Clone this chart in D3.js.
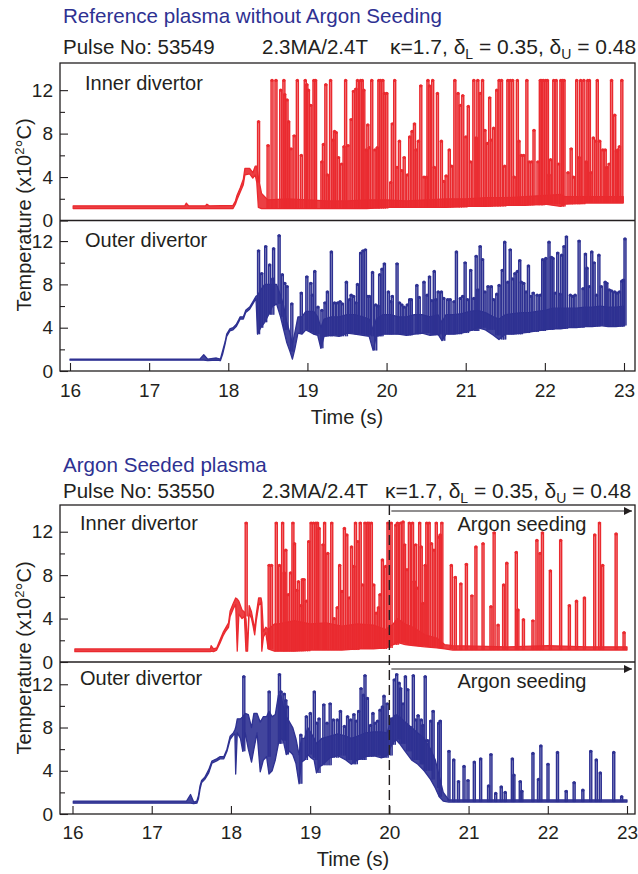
<!DOCTYPE html>
<html>
<head>
<meta charset="utf-8">
<script src="https://cdn.jsdelivr.net/npm/d3@7"></script>
<style>
body { margin: 0; background: #fff; }
text { font-family: "Liberation Sans", Arial, Helvetica, sans-serif; fill: #231f20; }
</style>
</head>
<body>
<svg id="chart" width="638" height="874"></svg>
<script>
// ---- data ----
// body of each trace: [time (s), low, high] in units of 10^2 C
// spikes: [time (s), peak]
var timeTicks = [16, 17, 18, 19, 20, 21, 22, 23];
var majorTicks = [0, 4, 8, 12];
var minorTicks = [2, 6, 10];

var refInnerBody = [
  [16.04,1.1,1.35],[17.45,1.1,1.35],[17.47,1.1,1.6],[17.50,1.1,1.35],[17.71,1.1,1.35],[17.73,1.1,1.5],
  [17.76,1.1,1.35],[18.06,1.1,1.4],[18.09,1.5,1.8],[18.11,1.9,2.3],[18.15,2.6,3.0],[18.19,3.3,3.8],
  [18.21,4.2,4.8],[18.27,4.3,4.8],[18.31,3.9,4.4],[18.34,4.2,5.0],[18.36,3.5,5.0],[18.38,1.2,4.0],
  [18.42,1.1,2.5],[18.50,1.1,1.9],[18.75,1.1,2.0],[19.0,1.1,1.9],[19.25,1.1,1.8],[19.5,1.1,1.8],
  [19.75,1.1,1.9],[20.0,1.2,1.9],[20.25,1.2,1.8],[20.5,1.2,1.9],[20.75,1.2,2.0],[21.0,1.3,2.0],
  [21.25,1.3,2.1],[21.5,1.4,2.1],[21.75,1.4,2.2],[22.0,1.5,2.3],[22.2,1.3,2.4],[22.25,1.5,2.2],
  [22.5,1.6,2.2],[22.75,1.6,2.2],[22.99,1.6,2.2]
];
var refInnerSpikes = [
  [18.37,9.1],[18.49,6.9],[18.54,12.9],[18.59,12.9],[18.65,12.0],[18.69,12.9],[18.70,11.6],[18.73,11.1],
  [18.75,9.1],[18.78,6.6],[18.82,7.8],[18.86,12.9],[18.91,6.0],[18.96,12.9],[18.98,12.5],[19.00,12.0],
  [19.03,10.6],[19.07,12.9],[19.09,12.9],[19.17,5.4],[19.19,7.0],[19.22,12.5],[19.24,4.2],[19.28,12.9],
  [19.31,7.4],[19.33,8.2],[19.35,8.1],[19.38,5.8],[19.42,5.2],[19.45,6.8],[19.47,12.9],[19.50,6.9],
  [19.54,9.3],[19.57,11.9],[19.60,12.1],[19.62,12.9],[19.66,12.9],[19.68,12.9],[19.70,12.0],[19.73,6.5],
  [19.75,8.8],[19.77,6.7],[19.80,12.9],[19.84,6.5],[19.87,6.7],[19.89,12.9],[19.91,12.9],[19.94,12.9],
  [19.96,11.7],[19.99,11.7],[20.04,3.5],[20.06,8.9],[20.09,12.9],[20.12,4.9],[20.15,7.3],[20.18,4.6],
  [20.21,5.8],[20.25,4.2],[20.28,7.7],[20.31,8.2],[20.34,8.9],[20.36,6.5],[20.39,7.3],[20.42,12.4],
  [20.46,4.0],[20.49,4.0],[20.51,12.9],[20.53,12.4],[20.57,12.9],[20.59,4.9],[20.63,11.7],[20.68,7.3],
  [20.71,3.6],[20.74,4.1],[20.78,6.5],[20.81,5.0],[20.85,12.9],[20.89,11.7],[20.92,10.6],[20.95,11.5],
  [20.99,7.7],[21.02,10.5],[21.05,5.4],[21.09,12.9],[21.12,7.6],[21.14,12.9],[21.17,11.7],[21.20,12.9],
  [21.23,8.3],[21.26,7.1],[21.29,11.3],[21.31,7.4],[21.34,8.5],[21.38,12.0],[21.41,12.9],[21.44,12.9],
  [21.48,5.0],[21.52,12.9],[21.55,12.9],[21.58,12.9],[21.60,4.0],[21.64,12.9],[21.66,7.3],[21.69,6.0],
  [21.72,6.0],[21.76,12.9],[21.79,5.4],[21.82,5.4],[21.85,8.3],[21.90,5.4],[21.93,12.9],[21.95,12.9],
  [21.97,12.9],[22.00,12.9],[22.02,12.9],[22.04,4.2],[22.06,5.6],[22.10,12.9],[22.13,12.9],[22.16,5.2],
  [22.19,12.9],[22.21,12.9],[22.23,12.9],[22.28,4.4],[22.32,6.6],[22.35,4.0],[22.39,12.9],[22.42,5.8],
  [22.44,12.9],[22.48,12.9],[22.51,5.4],[22.53,12.9],[22.55,12.9],[22.57,4.4],[22.60,7.6],[22.63,7.3],
  [22.65,12.9],[22.68,7.3],[22.72,6.5],[22.75,6.5],[22.77,4.9],[22.80,5.2],[22.83,12.9],[22.87,9.7],
  [22.89,6.4],[22.91,6.5],[22.93,6.8],[22.96,12.9]
];

var refOuterBody = [
  [16.0,1.0,1.1],[17.64,1.0,1.1],[17.69,1.0,1.5],[17.74,0.95,1.1],[17.85,1.0,1.2],[17.90,0.95,1.1],
  [17.93,1.6,1.9],[17.96,2.5,2.7],[17.98,3.2,3.4],[18.02,3.7,3.9],[18.06,3.8,4.0],[18.10,4.1,4.3],
  [18.13,4.5,4.7],[18.15,4.8,5.0],[18.19,4.8,5.0],[18.22,5.4,5.6],[18.27,5.7,5.9],[18.31,6.2,6.4],
  [18.35,6.7,6.9],[18.37,3.4,7.0],[18.41,4.0,7.5],[18.46,4.5,8.0],[18.51,5.2,8.0],[18.56,6.0,8.0],
  [18.61,6.2,8.0],[18.66,5.0,7.0],[18.70,3.8,6.0],[18.74,2.6,4.5],[18.78,1.8,3.5],[18.81,1.1,2.5],
  [18.84,2.0,3.5],[18.88,3.5,5.0],[18.93,3.4,5.0],[18.98,3.8,5.5],[19.03,3.6,5.5],[19.08,3.4,5.5],
  [19.13,3.3,5.0],[19.17,2.1,4.0],[19.21,3.2,4.8],[19.30,3.3,5.0],[19.40,3.2,5.0],[19.50,3.5,5.2],
  [19.60,3.4,5.2],[19.70,3.3,5.0],[19.78,3.2,4.8],[19.83,1.9,3.8],[19.87,3.2,4.8],[19.95,3.4,5.2],
  [20.05,3.4,5.2],[20.15,3.4,5.0],[20.25,3.3,5.0],[20.35,3.4,5.2],[20.45,3.5,5.2],[20.55,3.3,5.0],
  [20.65,3.4,5.2],[20.70,2.8,4.5],[20.75,3.4,5.2],[20.85,3.4,5.2],[20.95,3.5,5.3],[21.05,3.7,5.5],
  [21.15,4.0,5.6],[21.25,3.8,5.4],[21.35,3.3,5.0],[21.42,2.9,4.8],[21.50,3.4,5.2],[21.60,3.4,5.3],
  [21.70,3.5,5.4],[21.80,3.6,5.4],[21.90,3.7,5.5],[22.00,3.8,5.6],[22.10,3.9,5.8],[22.20,3.9,5.8],
  [22.30,4.0,5.8],[22.40,4.0,5.8],[22.50,4.1,5.9],[22.60,4.1,5.9],[22.70,4.2,6.0],[22.80,4.1,5.9],
  [22.90,4.1,5.9],[23.00,4.2,6.0]
];
var refOuterSpikes = [
  [18.37,11.1],[18.41,9.0],[18.46,11.5],[18.51,9.8],[18.55,8.5],[18.56,11.3],[18.63,12.5],[18.67,8.9],
  [18.70,8.1],[18.73,7.8],[18.79,6.2],[18.91,7.2],[18.98,8.7],[19.03,8.1],[19.05,7.0],[19.08,9.2],
  [19.12,5.9],[19.17,5.6],[19.21,6.3],[19.24,7.3],[19.29,11.0],[19.33,6.3],[19.37,6.3],[19.40,6.4],
  [19.43,6.2],[19.48,8.2],[19.52,6.6],[19.54,7.0],[19.57,6.9],[19.60,6.3],[19.62,8.0],[19.66,10.9],
  [19.69,11.1],[19.72,11.2],[19.75,6.9],[19.77,6.9],[19.81,9.1],[19.85,6.1],[19.88,6.0],[19.90,8.9],
  [19.93,9.4],[19.96,9.9],[20.01,7.3],[20.04,6.4],[20.06,6.9],[20.12,9.9],[20.15,6.3],[20.18,6.1],
  [20.21,5.9],[20.25,6.1],[20.28,6.6],[20.30,6.6],[20.37,7.9],[20.40,6.8],[20.46,8.2],[20.50,7.0],
  [20.53,8.7],[20.56,6.5],[20.59,9.2],[20.61,6.6],[20.64,7.3],[20.68,7.3],[20.71,6.7],[20.76,6.6],
  [20.79,6.6],[20.84,6.4],[20.87,11.0],[20.92,6.7],[20.95,6.9],[20.98,10.0],[21.01,6.6],[21.05,9.3],
  [21.09,6.7],[21.12,10.6],[21.14,7.5],[21.17,11.5],[21.20,10.3],[21.23,7.3],[21.27,7.8],[21.31,7.8],
  [21.34,6.6],[21.38,7.1],[21.41,7.9],[21.45,9.3],[21.48,11.9],[21.52,8.2],[21.55,11.2],[21.58,8.5],
  [21.61,9.0],[21.64,9.2],[21.67,10.2],[21.69,8.2],[21.72,8.1],[21.75,7.3],[21.78,9.7],[21.81,6.9],
  [21.84,7.2],[21.89,7.0],[21.93,7.0],[21.96,10.3],[21.98,10.2],[22.00,10.4],[22.04,11.9],[22.07,10.5],
  [22.09,10.4],[22.12,7.2],[22.15,10.9],[22.18,7.1],[22.20,10.7],[22.23,11.5],[22.26,12.4],[22.31,7.0],
  [22.34,6.9],[22.37,7.0],[22.42,12.0],[22.47,7.6],[22.50,10.8],[22.52,9.5],[22.55,7.8],[22.58,11.0],
  [22.61,10.0],[22.64,7.0],[22.67,10.7],[22.70,7.8],[22.75,8.2],[22.77,8.1],[22.80,7.5],[22.83,7.4],
  [22.87,7.3],[22.90,7.2],[22.93,7.3],[22.96,8.3],[22.98,8.4],[23.00,12.2]
];

var argInnerBody = [
  [16.03,0.95,1.2],[17.74,0.95,1.2],[17.75,1.0,1.5],[17.78,0.95,1.2],[17.82,1.1,1.3],[17.86,1.7,2.0],
  [17.90,2.4,2.7],[17.93,2.8,3.1],[17.97,3.2,3.6],[17.99,4.2,4.7],[18.03,4.9,5.4],[18.06,5.3,5.9],
  [18.08,1.0,5.8],[18.10,4.4,5.6],[18.14,4.0,4.8],[18.17,4.2,4.6],[18.19,1.0,4.0],[18.21,1.0,1.4],
  [18.23,4.5,5.2],[18.26,4.0,4.6],[18.28,3.3,3.8],[18.30,2.5,3.0],[18.32,3.8,4.4],[18.35,5.2,5.9],
  [18.38,5.5,5.9],[18.39,1.0,5.5],[18.41,2.3,2.8],[18.44,2.7,3.2],[18.47,1.2,3.0],[18.55,1.0,3.5],
  [18.6,1.0,3.5],[18.8,1.0,3.8],[19.0,1.1,3.5],[19.2,1.1,3.6],[19.4,1.1,3.3],[19.6,1.2,3.5],
  [19.8,1.2,3.4],[19.95,1.3,3.0],[20.05,1.6,3.5],[20.1,1.8,4.0],[20.2,1.6,3.5],[20.3,1.5,3.2],
  [20.45,1.4,2.5],[20.6,1.3,2.2],[20.7,1.2,1.6],[20.8,1.1,1.5],[21.5,1.1,1.4],[22.0,1.1,1.5],
  [22.5,1.1,1.4],[23.0,1.1,1.4]
];
var argInnerSpikes = [
  [18.18,12.8],[18.47,8.9],[18.50,8.9],[18.56,12.8],[18.60,8.9],[18.64,12.8],[18.66,8.2],[18.68,10.3],
  [18.71,6.2],[18.74,8.2],[18.77,12.8],[18.79,10.9],[18.82,6.6],[18.84,7.4],[18.87,5.2],[18.89,7.6],
  [18.91,7.6],[18.94,5.6],[18.97,11.1],[19.00,12.8],[19.03,12.8],[19.06,12.8],[19.08,12.8],[19.10,12.3],
  [19.15,10.8],[19.17,12.8],[19.21,10.0],[19.26,12.8],[19.29,4.0],[19.33,5.0],[19.36,8.9],[19.39,6.5],
  [19.42,12.3],[19.45,11.7],[19.48,5.9],[19.51,10.6],[19.54,8.8],[19.56,12.8],[19.59,11.1],[19.62,12.8],
  [19.65,7.1],[19.68,12.8],[19.71,12.8],[19.73,12.8],[19.76,12.8],[19.79,7.1],[19.82,4.5],[19.85,5.0],
  [19.87,6.2],[19.90,9.4],[19.94,8.8],[19.97,12.8],[20.01,12.8],[20.07,12.6],[20.09,12.8],[20.13,12.8],
  [20.16,12.9],[20.18,10.8],[20.21,8.5],[20.24,12.8],[20.28,12.8],[20.30,7.4],[20.32,10.8],[20.34,6.8],
  [20.37,12.8],[20.39,10.6],[20.41,5.4],[20.44,8.9],[20.46,12.8],[20.49,12.8],[20.52,10.9],[20.55,10.3],
  [20.58,12.8],[20.61,11.5],[20.63,11.7],[20.65,12.8],[20.77,8.9],[20.82,7.8],[20.89,7.2],[20.96,9.0],
  [21.03,6.1],[21.08,10.6],[21.17,10.9],[21.27,5.1],[21.31,11.9],[21.36,3.4],[21.43,7.1],[21.47,9.1],
  [21.59,10.1],[21.61,4.8],[21.68,3.9],[21.80,3.8],[21.85,11.2],[21.89,10.0],[21.92,11.9],[22.02,8.4],
  [22.15,11.2],[22.26,5.2],[22.35,5.6],[22.45,5.9],[22.58,11.7],[22.64,12.8],[22.68,8.9],[22.85,11.8],
  [22.95,2.7]
];

var argOuterBody = [
  [16.01,1.0,1.2],[17.44,1.0,1.2],[17.49,1.0,1.8],[17.53,0.95,1.1],[17.57,1.0,1.2],[17.59,1.4,1.7],
  [17.61,2.3,2.6],[17.63,2.9,3.1],[17.67,3.2,3.4],[17.72,3.8,4.1],[17.76,4.7,4.9],[17.82,4.9,5.1],
  [17.86,5.1,5.3],[17.91,5.1,5.3],[17.95,5.8,6.0],[17.99,6.9,7.2],[18.03,7.3,7.5],[18.05,7.4,7.8],
  [18.06,3.7,8.0],[18.08,7.5,8.8],[18.12,7.0,8.8],[18.15,5.8,9.0],[18.18,7.5,9.3],[18.22,6.0,9.2],
  [18.26,4.8,8.0],[18.29,6.0,9.3],[18.33,7.5,9.3],[18.37,3.9,8.5],[18.41,5.0,9.0],[18.45,5.3,9.0],
  [18.48,3.7,9.5],[18.52,4.0,9.0],[18.56,5.0,9.2],[18.60,6.5,11.0],[18.63,7.0,11.0],[18.66,6.8,10.0],
  [18.70,5.5,9.0],[18.74,5.8,8.5],[18.78,5.5,8.0],[18.82,4.7,7.0],[18.86,2.8,5.5],[18.89,4.8,7.0],
  [18.93,5.0,7.0],[18.97,5.5,8.0],[19.01,5.2,7.5],[19.05,5.0,7.0],[19.08,3.8,6.5],[19.12,4.4,6.8],
  [19.15,4.5,7.0],[19.25,5.2,7.2],[19.35,5.4,7.4],[19.45,5.0,7.2],[19.52,4.6,7.0],[19.60,5.0,7.2],
  [19.70,5.3,7.5],[19.80,5.4,7.6],[19.90,5.2,7.6],[19.97,5.4,7.5],[20.03,6.4,8.8],[20.08,6.9,9.2],
  [20.13,6.5,9.0],[20.20,5.8,8.5],[20.28,5.0,8.0],[20.36,4.6,7.5],[20.44,4.0,7.0],[20.52,3.2,6.0],
  [20.58,2.4,5.0],[20.63,1.6,3.5],[20.68,1.2,2.0],[20.75,1.1,1.3],[23.0,1.1,1.3]
];
var argOuterSpikes = [
  [18.15,12.7],[18.47,11.3],[18.60,12.9],[18.62,11.3],[18.66,11.1],[18.68,10.5],[18.70,9.9],
  [18.87,7.3],[18.94,9.0],[18.99,9.3],[19.04,11.3],[19.07,8.4],[19.10,8.8],[19.16,10.1],[19.20,8.4],
  [19.24,10.2],[19.28,8.7],[19.33,8.7],[19.37,9.5],[19.42,8.1],[19.46,9.0],[19.50,8.7],[19.54,9.2],
  [19.57,8.6],[19.60,9.5],[19.63,11.6],[19.66,11.0],[19.68,12.8],[19.71,10.7],[19.75,8.2],[19.78,9.3],
  [19.81,8.4],[19.84,8.6],[19.87,9.6],[19.90,9.9],[19.92,10.9],[19.96,10.2],[20.01,8.8],[20.05,12.4],
  [20.08,12.9],[20.11,12.1],[20.13,11.6],[20.16,10.2],[20.19,12.7],[20.22,11.5],[20.26,8.0],[20.29,12.8],
  [20.32,8.7],[20.35,9.1],[20.39,8.7],[20.41,8.2],[20.44,12.7],[20.47,6.8],[20.51,8.6],[20.54,9.5],
  [20.61,8.4],[20.63,8.6],[20.74,5.8],[20.80,5.0],[20.86,3.0],[20.93,4.4],[20.98,3.1],[21.06,4.8],
  [21.14,5.1],[21.24,2.6],[21.27,5.5],[21.33,1.9],[21.40,2.5],[21.45,2.0],[21.54,5.1],[21.56,3.6],
  [21.64,3.0],[21.66,2.1],[21.80,5.6],[21.87,3.2],[21.90,6.3],[21.99,4.6],[22.11,5.7],[22.22,2.1],
  [22.32,2.9],[22.43,2.2],[22.53,5.8],[22.60,5.0],[22.65,3.8],[22.82,5.7],[22.92,1.6]
];

// ---- layout ----
var red = '#ea2a2f', blue = '#2e3192', ink = '#231f20';
var svg = d3.select('#chart');
var defs = svg.append('defs');

defs.append('marker')
  .attr('id', 'arrow').attr('viewBox', '0 0 10 10')
  .attr('refX', 10).attr('refY', 5)
  .attr('markerWidth', 12).attr('markerHeight', 8)
  .attr('markerUnits', 'userSpaceOnUse')
  .attr('orient', 'auto')
  .append('path').attr('d', 'M0,0L10,5L0,10Z').attr('fill', ink);

var figures = [
  {
    title: 'Reference plasma without Argon Seeding', pulse: 'Pulse No: 53549',
    titleY: 23, headY: 54, kappaX: 390,
    left: 60, right: 635, top: 63, mid: 220.5, bottom: 371, x0: 70, x1: 624,
    innerTop: 14.5, outerTop: 13.9, labelX: 85, labelY: 90, label2Y: 247,
    ylabY: 215, timeX: 347, timeY: 424, tickPad: 13,
    inner: [refInnerBody, refInnerSpikes], outer: [refOuterBody, refOuterSpikes],
    argon: false
  },
  {
    title: 'Argon Seeded plasma', pulse: 'Pulse No: 53550',
    titleY: 472, headY: 498, kappaX: 385,
    left: 60, right: 635, top: 505, mid: 662, bottom: 814, x0: 72.5, x1: 627,
    innerTop: 14.46, outerTop: 14.06, labelX: 80, labelY: 530, label2Y: 685,
    ylabY: 658, timeX: 353, timeY: 866, tickPad: 12,
    inner: [argInnerBody, argInnerSpikes], outer: [argOuterBody, argOuterSpikes],
    argon: true
  }
];

function footAt(body, t) {
  var i = d3.bisector(function(d) { return d[0]; }).right(body, t) - 1;
  return body[Math.max(0, i)][1];
}

var clipId = 0;
function drawTrace(g, x, y, body, spikes, color, f, yTop, yBottom) {
  var id = 'clip' + (clipId++);
  defs.append('clipPath').attr('id', id)
    .append('rect').attr('x', f.left).attr('y', yTop)
    .attr('width', f.right - f.left).attr('height', yBottom - yTop);
  var layer = g.append('g').attr('clip-path', 'url(#' + id + ')');

  var area = d3.area()
    .x(function(d) { return x(d[0]); })
    .y0(function(d) { return y(d[1]); })
    .y1(function(d) { return y(d[2]); });
  layer.append('path').datum(body)
    .attr('d', area)
    .attr('fill', color).attr('fill-opacity', 0.9).attr('stroke', color)
    .attr('stroke-width', 1.3).attr('stroke-linejoin', 'round');

  var w = 2;
  layer.selectAll('path.spike').data(spikes).enter().append('path')
    .attr('class', 'spike')
    .attr('d', function(d) {
      var px = x(d[0]), foot = y(footAt(body, d[0]));
      return 'M' + px + ',' + foot + 'V' + y(d[1]) + 'H' + (px + w) + 'V' + foot;
    })
    .attr('fill', color).attr('fill-opacity', 0.5)
    .attr('stroke', color).attr('stroke-width', 1.4);

  layer.selectAll('circle.tip').data(spikes).enter().append('circle')
    .attr('class', 'tip')
    .attr('cx', function(d) { return x(d[0]) + w / 2; })
    .attr('cy', function(d) { return y(d[1]); })
    .attr('r', 1.6).attr('fill', color);
}

function yAxes(g, y, f) {
  var major = d3.axisLeft(y).tickValues(majorTicks).tickSize(-8).tickPadding(7)
    .tickFormat(d3.format('d'));
  var minor = d3.axisLeft(y).tickValues(minorTicks).tickSize(-5).tickFormat('');
  var ga = g.append('g').attr('transform', 'translate(' + f.left + ',0)').call(major);
  var gb = g.append('g').attr('transform', 'translate(' + f.left + ',0)').call(minor);
  [ga, gb].forEach(function(a) {
    a.select('.domain').remove();
    a.selectAll('line').attr('stroke', ink).attr('stroke-width', 1.1);
    a.selectAll('text').style('font-size', '19px').attr('fill', ink)
      .style('font-family', '"Liberation Sans", Arial, sans-serif');
  });
}

figures.forEach(function(f) {
  var g = svg.append('g');
  var x = d3.scaleLinear().domain([16, 23]).range([f.x0, f.x1]);
  var yIn = d3.scaleLinear().domain([0, f.innerTop]).range([f.mid, f.top]);
  var yOut = d3.scaleLinear().domain([0, f.outerTop]).range([f.bottom, f.mid]);

  drawTrace(g, x, yIn, f.inner[0], f.inner[1], red, f, f.top, f.mid);
  drawTrace(g, x, yOut, f.outer[0], f.outer[1], blue, f, f.mid, f.bottom);

  // frame
  g.append('rect').attr('x', f.left).attr('y', f.top)
    .attr('width', f.right - f.left).attr('height', f.bottom - f.top)
    .attr('fill', 'none').attr('stroke', ink).attr('stroke-width', 1.3);
  g.append('line').attr('x1', f.left).attr('x2', f.right)
    .attr('y1', f.mid).attr('y2', f.mid)
    .attr('stroke', ink).attr('stroke-width', 1.3);

  yAxes(g, yIn, f);
  yAxes(g, yOut, f);

  var xa = d3.axisBottom(x).tickValues(timeTicks).tickSize(-8).tickPadding(f.tickPad)
    .tickFormat(d3.format('d'));
  var gx = g.append('g').attr('transform', 'translate(0,' + f.bottom + ')').call(xa);
  gx.select('.domain').remove();
  gx.selectAll('line').attr('stroke', ink).attr('stroke-width', 1.1);
  gx.selectAll('text').style('font-size', '19px').attr('fill', ink)
    .style('font-family', '"Liberation Sans", Arial, sans-serif');

  // argon seeding marker
  if (f.argon) {
    g.append('line').attr('x1', x(20)).attr('x2', x(20))
      .attr('y1', f.top).attr('y2', f.bottom)
      .attr('stroke', ink).attr('stroke-width', 1.4)
      .attr('stroke-dasharray', '10,5');
    [[f.top + 6, f.top + 20], [f.mid + 7, f.mid + 20]].forEach(function(p) {
      g.append('line').attr('x1', x(20) + 2).attr('x2', f.right - 3)
        .attr('y1', p[0]).attr('y2', p[0])
        .attr('stroke', ink).attr('stroke-width', 1.2)
        .attr('marker-end', 'url(#arrow)');
      g.append('text').attr('x', 522).attr('y', p[1] + 6)
        .attr('text-anchor', 'middle').style('font-size', '20px')
        .text('Argon seeding');
    });
  }

  // panel labels
  g.append('text').attr('x', f.labelX).attr('y', f.labelY).style('font-size', '20px').text('Inner divertor');
  g.append('text').attr('x', f.labelX).attr('y', f.label2Y).style('font-size', '20px').text('Outer divertor');

  // titles
  g.append('text').attr('x', 63).attr('y', f.titleY).style('font-size', '20.6px')
    .style('fill', blue).text(f.title);
  g.append('text').attr('x', 63).attr('y', f.headY).style('font-size', '20.5px').text(f.pulse);
  g.append('text').attr('x', 262).attr('y', f.headY).style('font-size', '20.5px').text('2.3MA/2.4T');
  var k = g.append('text').attr('x', f.kappaX).attr('y', f.headY).style('font-size', '21px');
  k.append('tspan').text('\u03ba=1.7, \u03b4');
  k.append('tspan').attr('dy', 5).style('font-size', '14px').text('L');
  k.append('tspan').attr('dy', -5).text(' = 0.35, \u03b4');
  k.append('tspan').attr('dy', 5).style('font-size', '14px').text('U');
  k.append('tspan').attr('dy', -5).text(' = 0.48');

  // axis titles
  var yl = g.append('text')
    .attr('transform', 'translate(31,' + f.ylabY + ') rotate(-90)')
    .attr('text-anchor', 'middle').style('font-size', '20px');
  yl.append('tspan').text('Temperature (x10');
  yl.append('tspan').attr('dy', -7).style('font-size', '13px').text('2');
  yl.append('tspan').attr('dy', 7).text('\u00b0C)');

  g.append('text').attr('x', f.timeX).attr('y', f.timeY)
    .attr('text-anchor', 'middle').style('font-size', '20px').text('Time (s)');
});
</script>
</body>
</html>
